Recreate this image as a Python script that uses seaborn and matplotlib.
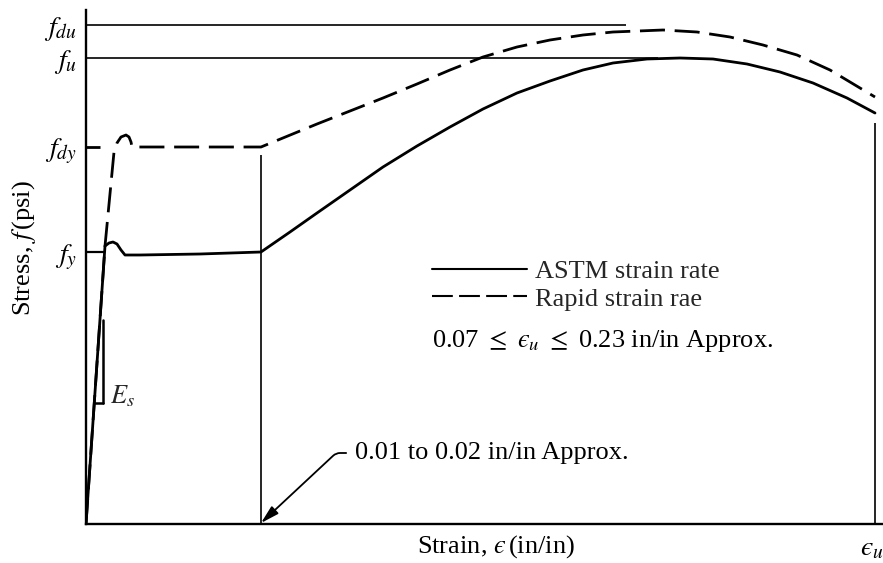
import numpy as np
import pandas as pd
import matplotlib
matplotlib.use("Agg")
import matplotlib.pyplot as plt
import matplotlib.transforms as mtransforms
from matplotlib.lines import Line2D
import seaborn as sns

# Schematic stress-strain curves (arbitrary units: strain along x, stress along y)
astm_strain = [0, 19, 23, 27, 31, 35, 39, 54, 114, 175, 204, 231, 264, 297, 331,
               364, 397, 431, 464, 497, 527, 561, 594, 627, 661, 694, 727, 761, 789]
astm_stress = [0, 278, 281, 282, 280, 274, 269, 269, 270, 272, 292, 311, 334, 357, 378,
               397, 415, 431, 443, 454, 461, 465, 466, 465, 460, 452, 441, 426, 411]

rapid_strain = [0, 19, 28, 31, 35, 40, 43, 45, 46, 175, 231, 264, 297, 331, 364,
                397, 431, 464, 497, 527, 577, 611, 644, 677, 711, 744, 789]
rapid_stress = [0, 278, 372, 381, 387, 389, 387, 382, 377, 377, 400, 413, 426, 440, 454,
                467, 477, 484, 489, 492, 494, 492, 487, 479, 469, 454, 427]

# Characteristic stress levels and strains
stress_levels = [499, 466, 377, 272]
stress_names = ["$f_{du}$", "$f_u$", "$f_{dy}$", "$f_y$"]
fdu_extent, fu_extent = 540, 572
plateau_end = 175
eps_u = 789
EPS = "\u03f5"
eps_u_name = f"${EPS}_u$"

sns.set_theme(style="white")
plt.rcParams["font.family"] = ["Liberation Serif", "DejaVu Serif"]
plt.rcParams["mathtext.fontset"] = "stix"
FS = 19

fig = plt.figure(figsize=(8.83, 5.63), dpi=100)
ax = fig.add_axes([86 / 883, (563 - 524) / 563, 797 / 883, 514 / 563])
ax.set_xlim(0, 797)
ax.set_ylim(0, 514)

df_astm = pd.DataFrame({"strain": astm_strain, "stress": astm_stress})
df_rapid = pd.DataFrame({"strain": rapid_strain, "stress": rapid_stress})

sns.lineplot(data=df_astm, x="strain", y="stress", sort=False, estimator=None,
             color="black", lw=2.0, ax=ax)
sns.lineplot(data=df_rapid, x="strain", y="stress", sort=False, estimator=None,
             color="black", lw=2.0, linestyle=(0, (9, 3.5)), ax=ax)

fdu, fu, fdy, fy = stress_levels
# Reference levels for ultimate and yield stresses
ax.hlines([fdu], 0, fdu_extent, color="black", lw=1.2)
ax.hlines([fu], 0, fu_extent, color="black", lw=1.2)
ax.hlines([fdy], 0, 14, color="black", lw=2.0)
ax.hlines([fy], 0, 19, color="black", lw=1.6)

# Strain markers
ax.vlines([plateau_end], 0, fdy - 8, color="black", lw=1.2)
ax.vlines([eps_u], 0, 401, color="black", lw=1.2)

# Elastic modulus slope triangle
ax.plot([9, 17], [121, 121], color="black", lw=1.8)
ax.plot([17, 17], [121, 204], color="black", lw=1.8)
ax.text(24, 128, "$E_s$", fontsize=FS, va="center", ha="left")

# Axes styling
for side in ["top", "right"]:
    ax.spines[side].set_visible(False)
for side in ["left", "bottom"]:
    ax.spines[side].set_color("black")
    ax.spines[side].set_linewidth(1.7)

ax.set_yticks(stress_levels)
ax.set_yticklabels(stress_names, fontsize=FS + 1)
ax.set_xticks([eps_u])
ax.set_xticklabels([eps_u_name], fontsize=FS + 1)
ax.tick_params(axis="y", length=0, pad=6.5, colors="black")
ax.tick_params(axis="x", length=0, pad=9, colors="black")
shift = mtransforms.ScaledTranslation(-2 / 72, 0, fig.dpi_scale_trans)
for lab in ax.get_xticklabels():
    lab.set_transform(lab.get_transform() + shift)

ax.set_xlabel(f"Strain, ${EPS}\\,$(in/in)", fontsize=FS, color="black")
ax.set_ylabel("Stress, $f\\,$(psi)", fontsize=FS, color="black")
ax.xaxis.set_label_coords(0.514, -0.017)
ax.yaxis.set_label_coords(-0.060, 0.537)

# Legend for the two loading rates
handles = [Line2D([], [], color="black", lw=1.5),
           Line2D([], [], color="black", lw=1.5, linestyle=(0, (10, 3)))]
labels = ["ASTM strain rate", "Rapid strain rae"]
ax.legend(handles, labels, loc="upper left", bbox_to_anchor=(0.434, 0.515),
          frameon=False, fontsize=FS, borderpad=0, borderaxespad=0,
          handlelength=3.6, handletextpad=0.3, labelspacing=0.17)
ax.text(346, 177, f"0.07 $\\leq$ ${EPS}_u$ $\\leq$ 0.23 in/in Approx.",
        fontsize=FS, va="baseline", ha="left", color="black")

# Yield plateau length callout
ax.annotate("0.01 to 0.02 in/in Approx.", xy=(plateau_end, 1), xytext=(269, 65),
            fontsize=FS, va="baseline", ha="left", color="black",
            arrowprops=dict(arrowstyle="-|>,head_length=1.1,head_width=0.3",
                            mutation_scale=10, color="black", lw=1.3,
                            shrinkA=4, shrinkB=0,
                            connectionstyle="angle,angleA=0,angleB=43,rad=4"))

fig.savefig("out.png", dpi=100)
